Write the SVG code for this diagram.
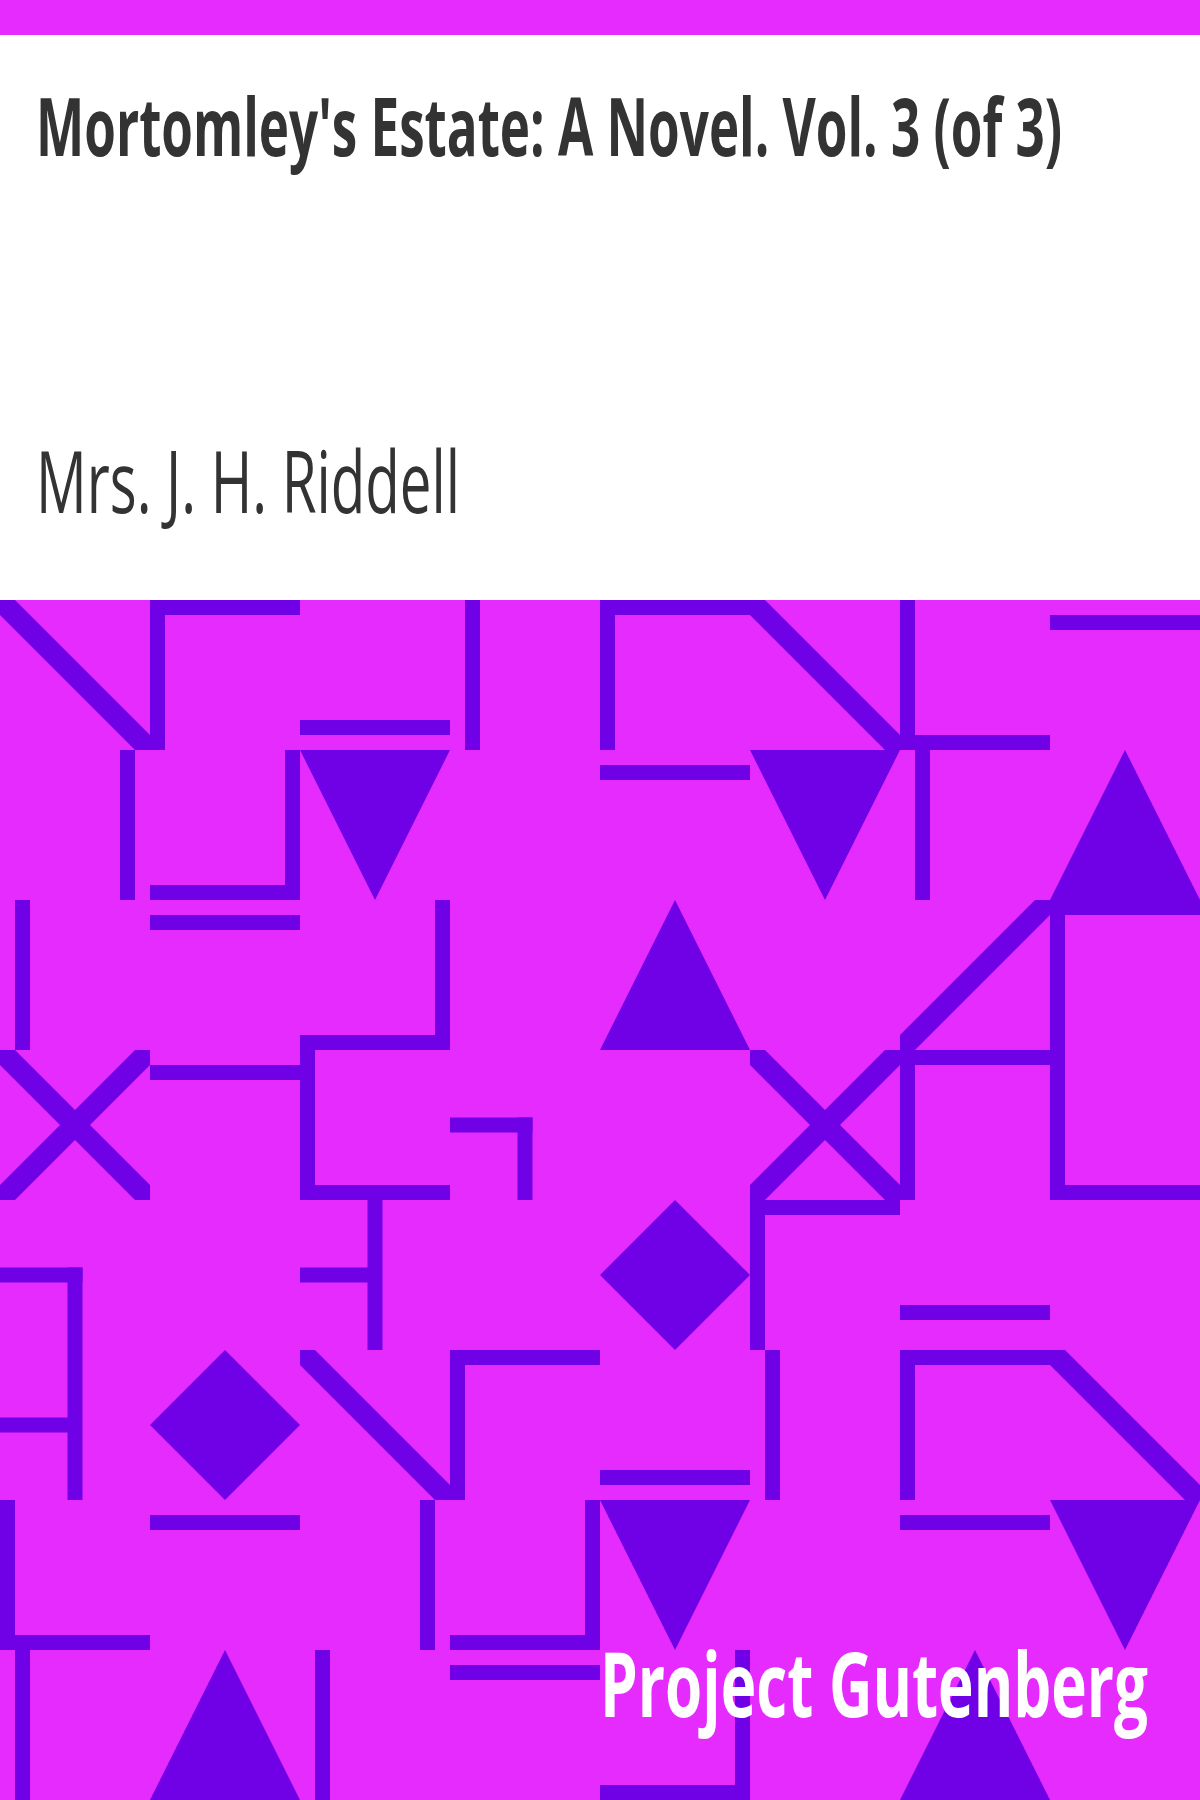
<svg xmlns="http://www.w3.org/2000/svg" width="1200" height="1800" viewBox="0 0 1200 1800">
<style>
.bg{fill:#E52BFE}
.s{fill:#7000E6}
.title{font-family:"Open Sans","Noto Sans","Liberation Sans",sans-serif;font-weight:bold;font-size:80px;fill:#333333}
.author{font-family:"Open Sans","Noto Sans","Liberation Sans",sans-serif;font-weight:normal;font-size:86px;fill:#333333}
.pg{font-family:"Open Sans","Noto Sans","Liberation Sans",sans-serif;font-weight:bold;font-size:90px;fill:#FFFFFF}
</style>
<rect x="0" y="0" width="1200" height="1800" fill="#FFFFFF"/>
<rect class="bg" x="0" y="0" width="1200" height="35"/>
<rect class="bg" x="0" y="600" width="1200" height="1200"/>
<g id="pattern" class="s">
  <g id="r0">
    <polygon points="0,600 15,600 150,735 150,750 135,750 0,615"/>
    <rect x="150" y="600" width="15" height="150"/><rect x="150" y="600" width="150" height="15"/>
    <rect x="300" y="720" width="150" height="15"/>
    <rect x="465" y="600" width="15" height="150"/>
    <rect x="600" y="600" width="150" height="15"/><rect x="600" y="600" width="15" height="150"/>
    <polygon points="750,600 765,600 900,735 900,750 885,750 750,615"/>
    <rect x="900" y="600" width="15" height="150"/><rect x="900" y="735" width="150" height="15"/>
    <rect x="1050" y="615" width="150" height="15"/>
  </g>
  <g id="r1">
    <rect x="120" y="750" width="15" height="150"/>
    <rect x="285" y="750" width="15" height="150"/><rect x="150" y="885" width="150" height="15"/>
    <polygon points="300,750 450,750 375,900"/>
    <rect x="600" y="765" width="150" height="15"/>
    <polygon points="750,750 900,750 825,900"/>
    <rect x="915" y="750" width="15" height="150"/>
    <polygon points="1050,900 1200,900 1125,750"/>
  </g>
  <g id="r2">
    <rect x="15" y="900" width="15" height="150"/>
    <rect x="150" y="915" width="150" height="15"/>
    <rect x="435" y="900" width="15" height="150"/><rect x="300" y="1035" width="150" height="15"/>
    <polygon points="600,1050 750,1050 675,900"/>
    <polygon points="900,1050 900,1035 1035,900 1050,900 1050,915 915,1050"/>
    <rect x="1050" y="900" width="150" height="15"/><rect x="1050" y="900" width="15" height="150"/>
  </g>
  <g id="r3">
    <polygon points="0,1050 15,1050 150,1185 150,1200 135,1200 0,1065"/>
    <polygon points="0,1200 0,1185 135,1050 150,1050 150,1065 15,1200"/>
    <rect x="150" y="1065" width="150" height="15"/>
    <rect x="300" y="1050" width="15" height="150"/><rect x="300" y="1185" width="150" height="15"/>
    <rect x="450" y="1117.5" width="82.5" height="15"/><rect x="517.5" y="1117.5" width="15" height="82.5"/>
    <polygon points="750,1050 765,1050 900,1185 900,1200 885,1200 750,1065"/>
    <polygon points="750,1200 750,1185 885,1050 900,1050 900,1065 765,1200"/>
    <rect x="900" y="1050" width="150" height="15"/><rect x="900" y="1050" width="15" height="150"/>
    <rect x="1050" y="1050" width="15" height="150"/><rect x="1050" y="1185" width="150" height="15"/>
  </g>
  <g id="r4">
    <rect x="0" y="1267.5" width="82.5" height="15"/><rect x="67.5" y="1267.5" width="15" height="82.5"/>
    <rect x="367.5" y="1200" width="15" height="150"/><rect x="300" y="1267.5" width="75" height="15"/>
    <polygon points="600,1275 675,1200 750,1275 675,1350"/>
    <rect x="750" y="1200" width="150" height="15"/><rect x="750" y="1200" width="15" height="150"/>
    <rect x="900" y="1305" width="150" height="15"/>
  </g>
  <g id="r5">
    <rect x="67.5" y="1350" width="15" height="150"/><rect x="0" y="1417.5" width="75" height="15"/>
    <polygon points="150,1425 225,1350 300,1425 225,1500"/>
    <polygon points="300,1350 315,1350 450,1485 450,1500 435,1500 300,1365"/>
    <rect x="450" y="1350" width="150" height="15"/><rect x="450" y="1350" width="15" height="150"/>
    <rect x="600" y="1470" width="150" height="15"/>
    <rect x="765" y="1350" width="15" height="150"/>
    <rect x="900" y="1350" width="150" height="15"/><rect x="900" y="1350" width="15" height="150"/>
    <polygon points="1050,1350 1065,1350 1200,1485 1200,1500 1185,1500 1050,1365"/>
  </g>
  <g id="r6">
    <rect x="0" y="1500" width="15" height="150"/><rect x="0" y="1635" width="150" height="15"/>
    <rect x="150" y="1515" width="150" height="15"/>
    <rect x="420" y="1500" width="15" height="150"/>
    <rect x="585" y="1500" width="15" height="150"/><rect x="450" y="1635" width="150" height="15"/>
    <polygon points="600,1500 750,1500 675,1650"/>
    <rect x="900" y="1515" width="150" height="15"/>
    <polygon points="1050,1500 1200,1500 1125,1650"/>
  </g>
  <g id="r7">
    <rect x="15" y="1650" width="15" height="150"/>
    <polygon points="150,1800 300,1800 225,1650"/>
    <rect x="315" y="1650" width="15" height="150"/>
    <rect x="450" y="1665" width="150" height="15"/>
    <rect x="735" y="1650" width="15" height="150"/><rect x="600" y="1785" width="150" height="15"/>
    <polygon points="900,1800 1050,1800 975,1650"/>
  </g>
</g>
<g id="title"><text class="title" transform="translate(36,156) scale(0.7,1)" x="0" y="0" textLength="1466" lengthAdjust="spacingAndGlyphs">Mortomley's Estate: A Novel. Vol. 3 (of 3)</text></g>
<g id="author"><text class="author" x="36" y="513" textLength="424" lengthAdjust="spacingAndGlyphs">Mrs. J. H. Riddell</text></g>
<g id="publisher"><text class="pg" transform="translate(600,1717) scale(0.7,1)" x="0" y="0" textLength="783" lengthAdjust="spacingAndGlyphs">Project Gutenberg</text></g>
</svg>
